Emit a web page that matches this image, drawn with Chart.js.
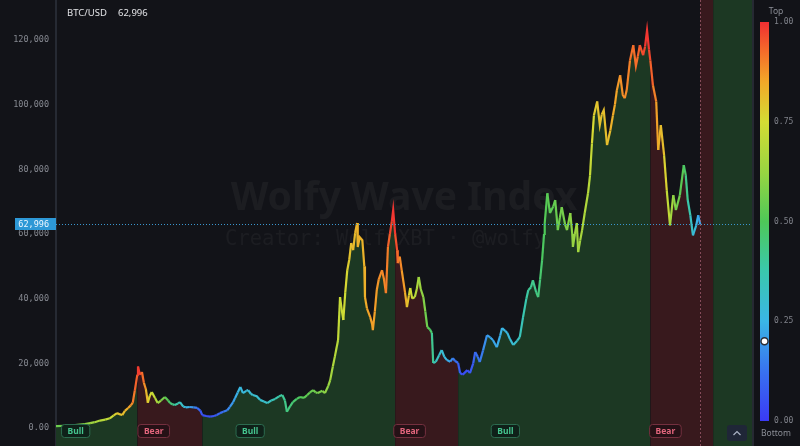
<!DOCTYPE html>
<html>
<head>
<meta charset="utf-8">
<script src="https://cdn.jsdelivr.net/npm/chart.js@4.4.1/dist/chart.umd.min.js"></script>
<style>
  html, body { margin: 0; padding: 0; background: #121318; }
  #wrap { width: 800px; height: 446px; position: relative; }
</style>
</head>
<body>
<div id="wrap"><canvas id="waveChart"></canvas></div>
<script>
// weekly-ish BTC closes (decimal year), price in USD, wave index 0..1
var dates = [
  2016.71, 2016.85, 2017.00, 2017.15, 2017.23, 2017.30, 2017.38, 2017.46, 2017.53, 2017.59,
  2017.64, 2017.69, 2017.72, 2017.76, 2017.81, 2017.85, 2017.88, 2017.91, 2017.95, 2017.96,
  2017.99, 2018.02, 2018.05, 2018.08, 2018.11, 2018.14, 2018.17, 2018.22, 2018.26, 2018.31,
  2018.37, 2018.42, 2018.45, 2018.49, 2018.52, 2018.57, 2018.60, 2018.65, 2018.69, 2018.75,
  2018.81, 2018.86, 2018.91, 2018.94, 2019.00, 2019.06, 2019.12, 2019.16, 2019.21, 2019.26,
  2019.32, 2019.36, 2019.41, 2019.44, 2019.48, 2019.52, 2019.56, 2019.61, 2019.64, 2019.68,
  2019.71, 2019.77, 2019.82, 2019.88, 2019.93, 2019.99, 2020.05, 2020.11, 2020.16, 2020.20,
  2020.23, 2020.28, 2020.32, 2020.38, 2020.43, 2020.49, 2020.54, 2020.58, 2020.63, 2020.67,
  2020.70, 2020.77, 2020.81, 2020.86, 2020.89, 2020.93, 2020.96, 2021.01, 2021.04, 2021.07,
  2021.09, 2021.12, 2021.15, 2021.18, 2021.21, 2021.24, 2021.27, 2021.30, 2021.31, 2021.34,
  2021.38, 2021.41, 2021.42, 2021.45, 2021.50, 2021.53, 2021.54, 2021.57, 2021.60, 2021.63,
  2021.68, 2021.71, 2021.74, 2021.77, 2021.80, 2021.83, 2021.85, 2021.88, 2021.91, 2021.92,
  2021.95, 2021.98, 2022.03, 2022.06, 2022.09, 2022.11, 2022.14, 2022.18, 2022.21, 2022.24,
  2022.27, 2022.31, 2022.34, 2022.37, 2022.41, 2022.44, 2022.46, 2022.50, 2022.55, 2022.59,
  2022.63, 2022.67, 2022.72, 2022.76, 2022.79, 2022.84, 2022.87, 2022.91, 2022.98, 2023.02,
  2023.07, 2023.10, 2023.14, 2023.17, 2023.22, 2023.28, 2023.33, 2023.37, 2023.43, 2023.48,
  2023.51, 2023.56, 2023.59, 2023.63, 2023.68, 2023.74, 2023.78, 2023.83, 2023.88, 2023.91,
  2023.95, 2023.98, 2024.03, 2024.06, 2024.09, 2024.12, 2024.15, 2024.16, 2024.20, 2024.23,
  2024.24, 2024.29, 2024.32, 2024.36, 2024.39, 2024.42, 2024.47, 2024.50, 2024.55, 2024.58,
  2024.59, 2024.62, 2024.65, 2024.67, 2024.70, 2024.73, 2024.77, 2024.82, 2024.85, 2024.88,
  2024.91, 2024.96, 2025.00, 2025.03, 2025.06, 2025.11, 2025.16, 2025.20, 2025.23, 2025.26,
  2025.31, 2025.35, 2025.38, 2025.41, 2025.46, 2025.51, 2025.55, 2025.58, 2025.61, 2025.66,
  2025.69, 2025.72, 2025.75, 2025.77, 2025.81, 2025.86, 2025.89, 2025.93, 2025.98, 2026.02,
  2026.07, 2026.12, 2026.16, 2026.22, 2026.28, 2026.31, 2026.34, 2026.38, 2026.42, 2026.47,
  2026.50, 2026.53
];
var prices = [
  600, 700, 900, 1200, 1500, 1800, 2300, 2600, 3000, 3900,
  4600, 4200, 4000, 5300, 6200, 7000, 7800, 11500, 16500, 19000,
  16500, 17300, 14000, 12000, 7800, 10000, 11100, 9300, 7700, 8500,
  9600, 8500, 7700, 7300, 7100, 7600, 8000, 6600, 6400, 6500,
  6400, 6200, 5400, 4000, 3700, 3500, 3700, 4000, 4600, 5000,
  5500, 6500, 8000, 9300, 11000, 12700, 10800, 11500, 11700, 10600,
  10200, 9800, 8700, 8200, 7700, 8500, 9000, 9800, 10200, 8500,
  5000, 6800, 8000, 9000, 9600, 9300, 10200, 11000, 11700, 11000,
  10800, 11500, 10800, 13000, 14800, 19000, 22000, 27200, 40500, 36000,
  33400, 42000, 48800, 52000, 57200, 55000, 60300, 63400, 56000, 59000,
  58100, 50000, 40500, 37000, 34300, 32000, 30300, 36000, 42700, 46000,
  48800, 46000, 41700, 56000, 60000, 64000, 67400, 60000, 55000, 51000,
  53000, 48800, 42000, 37400, 41000, 43300, 40000, 40500, 43000, 46700,
  43000, 40500, 36000, 31200, 30500, 29400, 20100, 20500, 22500, 24100,
  22000, 21000, 20500, 21600, 20800, 20100, 17000, 16500, 17900, 17000,
  20000, 23500, 22000, 20400, 24000, 28700, 28000, 27200, 25000, 28500,
  30900, 30000, 29400, 27500, 25700, 27000, 28100, 34300, 40000, 42700,
  43500, 45700, 42000, 40500, 46000, 51900, 60000, 63400, 72600, 68000,
  66500, 68500, 70500, 61200, 65000, 68300, 63000, 61200, 66500, 60000,
  56000, 60000, 63400, 54400, 58000, 61200, 66500, 72600, 78000, 88000,
  96700, 101000, 93700, 97000, 98300, 87500, 92000, 96700, 100000, 104500,
  109100, 103000, 102000, 104500, 113700, 118400, 112000, 115000, 118400, 115300,
  118000, 123000, 117000, 113700, 106000, 101000, 86000, 93700, 84400, 73600,
  62700, 72000, 67400, 72000, 81300, 78200, 70500, 65800, 59600, 62700,
  65800, 62996
];
var wave = [
  0.55, 0.55, 0.56, 0.60, 0.62, 0.65, 0.68, 0.70, 0.72, 0.75,
  0.80, 0.80, 0.80, 0.82, 0.85, 0.87, 0.90, 0.92, 0.96, 1.00,
  0.97, 0.95, 0.90, 0.86, 0.78, 0.76, 0.74, 0.70, 0.65, 0.60,
  0.54, 0.50, 0.46, 0.43, 0.40, 0.37, 0.34, 0.30, 0.27, 0.22,
  0.17, 0.12, 0.08, 0.05, 0.04, 0.05, 0.06, 0.08, 0.10, 0.12,
  0.15, 0.18, 0.20, 0.22, 0.25, 0.27, 0.27, 0.28, 0.28, 0.29,
  0.30, 0.30, 0.30, 0.31, 0.32, 0.34, 0.36, 0.38, 0.40, 0.42,
  0.44, 0.45, 0.46, 0.48, 0.50, 0.52, 0.53, 0.54, 0.55, 0.56,
  0.57, 0.58, 0.60, 0.62, 0.64, 0.66, 0.68, 0.70, 0.73, 0.73,
  0.73, 0.75, 0.77, 0.79, 0.81, 0.81, 0.82, 0.83, 0.83, 0.83,
  0.83, 0.83, 0.84, 0.85, 0.86, 0.86, 0.86, 0.86, 0.87, 0.88,
  0.89, 0.89, 0.89, 0.92, 0.96, 0.98, 1.00, 0.98, 0.94, 0.92,
  0.90, 0.88, 0.85, 0.82, 0.78, 0.75, 0.73, 0.70, 0.68, 0.65,
  0.62, 0.60, 0.57, 0.54, 0.50, 0.45, 0.38, 0.34, 0.32, 0.30,
  0.28, 0.25, 0.20, 0.15, 0.12, 0.10, 0.06, 0.04, 0.05, 0.06,
  0.08, 0.10, 0.12, 0.13, 0.15, 0.20, 0.21, 0.22, 0.22, 0.24,
  0.25, 0.26, 0.27, 0.28, 0.30, 0.32, 0.34, 0.36, 0.38, 0.40,
  0.42, 0.42, 0.43, 0.44, 0.46, 0.48, 0.50, 0.50, 0.52, 0.52,
  0.52, 0.53, 0.54, 0.55, 0.56, 0.56, 0.57, 0.58, 0.60, 0.61,
  0.62, 0.63, 0.64, 0.64, 0.65, 0.66, 0.67, 0.68, 0.70, 0.74,
  0.77, 0.80, 0.80, 0.80, 0.81, 0.80, 0.82, 0.84, 0.85, 0.86,
  0.88, 0.88, 0.88, 0.89, 0.91, 0.93, 0.92, 0.93, 0.95, 0.96,
  0.98, 1.00, 0.98, 0.96, 0.92, 0.88, 0.84, 0.82, 0.80, 0.74,
  0.68, 0.62, 0.58, 0.54, 0.50, 0.46, 0.40, 0.35, 0.30, 0.26,
  0.23, 0.20
];
var yTicks = [0, 20000, 40000, 60000, 80000, 100000, 120000];
var waveTicks = [1, 0.75, 0.5, 0.25, 0];
var phaseNames = ['Bull', 'Bear', 'Bull', 'Bear', 'Bull', 'Bear', 'Bull'];
var phaseStart = [2016.71, 2017.95, 2018.94, 2021.88, 2022.84, 2025.77, 2026.73];
var phaseEnd = [2017.95, 2018.94, 2021.88, 2022.84, 2025.77, 2026.73, 2027.40];
var phaseLabelAt = [2017.01, 2018.20, 2019.67, 2022.10, 2023.56, 2026.00, null];

var xMin = 2016.71, xMax = 2027.32;
var yMin = -5567, yMax = 132370;

var bullFill = '#1c3823';
var bearFill = '#38191d';

// colour ramp of the wave index (blue -> cyan -> green -> yellow -> red)
var ramp = [
  [0.00, [58, 58, 245]],
  [0.12, [56, 112, 240]],
  [0.25, [58, 182, 230]],
  [0.38, [58, 200, 170]],
  [0.50, [78, 200, 88]],
  [0.62, [150, 212, 66]],
  [0.75, [212, 220, 52]],
  [0.85, [242, 168, 40]],
  [0.93, [245, 105, 42]],
  [1.00, [240, 46, 50]]
];

function waveColor(v) {
  v = Math.max(0, Math.min(1, v));
  for (var i = 1; i < ramp.length; i++) {
    if (v <= ramp[i][0]) {
      var a = ramp[i - 1], b = ramp[i];
      var t = (v - a[0]) / (b[0] - a[0]);
      var c = [0, 1, 2].map(function (k) { return Math.round(a[1][k] + (b[1][k] - a[1][k]) * t); });
      return 'rgb(' + c.join(',') + ')';
    }
  }
  return 'rgb(240,46,50)';
}

var lastPrice = prices[prices.length - 1];
var lastDate = dates[dates.length - 1];
var lastWave = wave[wave.length - 1];

var points = dates.map(function (d, i) { return { x: d, y: prices[i] }; });

var datasets = [];
// line on top
datasets.push({
  data: points,
  borderWidth: 2.2,
  borderColor: waveColor(0.5),
  pointRadius: 0,
  tension: 0,
  fill: false,
  order: 0,
  segment: {
    borderColor: function (c) {
      return waveColor((wave[c.p0DataIndex] + wave[c.p1DataIndex]) / 2);
    }
  }
});
// shaded area under the price, one per phase
for (var p = 0; p < phaseNames.length; p++) {
  var part = points.filter(function (pt) { return pt.x >= phaseStart[p] && pt.x <= phaseEnd[p]; });
  if (part.length < 2) continue;
  datasets.push({
    data: part,
    borderWidth: 0,
    pointRadius: 0,
    fill: 'start',
    backgroundColor: phaseNames[p] == 'Bull' ? bullFill : bearFill,
    order: 1
  });
}

var overlay = {
  id: 'overlay',
  beforeDatasetsDraw: function (chart) {
    var ctx = chart.ctx, a = chart.chartArea, xs = chart.scales.x;
    ctx.save();
    // phase bands past the last bar
    for (var i = 0; i < phaseNames.length; i++) {
      var s = Math.max(phaseStart[i], lastDate), e = phaseEnd[i];
      if (e <= s) continue;
      var x0 = xs.getPixelForValue(s), x1 = Math.min(xs.getPixelForValue(e), a.right);
      ctx.fillStyle = phaseNames[i] == 'Bull' ? bullFill : bearFill;
      ctx.fillRect(x0, a.top, x1 - x0, a.bottom - a.top);
    }
    // watermark
    var cx = (a.left + a.right) / 2;
    ctx.fillStyle = 'rgba(255,255,255,0.045)';
    ctx.textAlign = 'center';
    ctx.textBaseline = 'alphabetic';
    ctx.font = 'bold 39px "Noto Sans", sans-serif';
    ctx.fillText('Wolfy Wave Index', cx, 210);
    ctx.font = '20.5px "DejaVu Sans Mono", monospace';
    ctx.fillText('Creator: WolfyXBT \u00b7 @wolfyxbt', cx, 245);
    ctx.restore();
  },
  afterDatasetsDraw: function (chart) {
    var ctx = chart.ctx, a = chart.chartArea, xs = chart.scales.x, ys = chart.scales.y;
    ctx.save();
    // last price line
    var py = Math.round(ys.getPixelForValue(lastPrice)) + 0.5;
    ctx.strokeStyle = '#3a97cf';
    ctx.lineWidth = 1;
    ctx.setLineDash([1, 2]);
    ctx.beginPath(); ctx.moveTo(a.left, py); ctx.lineTo(a.right, py); ctx.stroke();
    // last bar marker
    var lx = Math.round(xs.getPixelForValue(lastDate)) + 0.5;
    ctx.strokeStyle = 'rgba(190,110,130,0.6)';
    ctx.setLineDash([2, 2]);
    ctx.beginPath(); ctx.moveTo(lx, a.top); ctx.lineTo(lx, a.bottom); ctx.stroke();
    ctx.setLineDash([]);
    // phase tags
    ctx.font = 'bold 8.5px "Noto Sans", sans-serif';
    ctx.textAlign = 'center';
    ctx.textBaseline = 'middle';
    for (var i = 0; i < phaseNames.length; i++) {
      if (phaseLabelAt[i] == null) continue;
      var bull = phaseNames[i] == 'Bull';
      var cx = xs.getPixelForValue(phaseLabelAt[i]);
      var w = ctx.measureText(phaseNames[i]).width + 12;
      ctx.beginPath();
      ctx.roundRect(cx - w / 2, 424.5, w, 13, 3);
      ctx.fillStyle = bull ? '#0f2119' : '#261116';
      ctx.fill();
      ctx.strokeStyle = bull ? '#2c6b4f' : '#74303f';
      ctx.lineWidth = 1;
      ctx.stroke();
      ctx.fillStyle = bull ? '#45c48e' : '#e2657c';
      ctx.fillText(phaseNames[i], cx, 431.5);
    }
    ctx.restore();
  },
  afterDraw: function (chart) {
    var ctx = chart.ctx, a = chart.chartArea, ys = chart.scales.y;
    ctx.save();
    // header
    ctx.textBaseline = 'alphabetic';
    ctx.textAlign = 'left';
    ctx.fillStyle = '#e2e3e6';
    ctx.font = '9.5px "Noto Sans", sans-serif';
    ctx.fillText('BTC/USD', 67, 16);
    ctx.fillText(lastPrice.toLocaleString('en-US'), 118, 16);
    // price tag on the axis
    var py = ys.getPixelForValue(lastPrice);
    ctx.fillStyle = '#2d98d6';
    ctx.fillRect(15, Math.round(py) - 6, a.left - 15, 12);
    ctx.fillStyle = '#eef7ff';
    ctx.font = '8.5px "DejaVu Sans Mono", monospace';
    ctx.textAlign = 'right';
    ctx.textBaseline = 'middle';
    ctx.fillText(lastPrice.toLocaleString('en-US'), 49, Math.round(py) + 0.5);
    // separator before the colour bar
    ctx.fillStyle = '#262a33';
    ctx.fillRect(a.right, 0, 2, chart.height);
    // colour bar
    var top = 22, bot = 421, bx = 760, bw = 9;
    var g = ctx.createLinearGradient(0, bot, 0, top);
    ramp.forEach(function (r) { g.addColorStop(r[0], 'rgb(' + r[1].join(',') + ')'); });
    ctx.fillStyle = g;
    ctx.fillRect(bx, top, bw, bot - top);
    ctx.fillStyle = '#80838b';
    ctx.font = '8px "DejaVu Sans Mono", monospace';
    ctx.textAlign = 'left';
    waveTicks.forEach(function (v) {
      ctx.fillText(v.toFixed(2), 774, bot - v * (bot - top));
    });
    ctx.font = '8.5px "Noto Sans", sans-serif';
    ctx.textAlign = 'center';
    ctx.fillStyle = '#8b8e96';
    ctx.fillText('Top', 776, 12);
    ctx.fillText('Bottom', 776, 434);
    // current wave marker
    ctx.beginPath();
    ctx.arc(bx + bw / 2, bot - lastWave * (bot - top), 3.5, 0, Math.PI * 2);
    ctx.fillStyle = '#ffffff';
    ctx.fill();
    ctx.lineWidth = 1.5;
    ctx.strokeStyle = '#2a2d35';
    ctx.stroke();
    // scroll button
    ctx.beginPath();
    ctx.roundRect(727, 425, 20, 16, 3);
    ctx.fillStyle = '#1f2637';
    ctx.fill();
    ctx.strokeStyle = '#aab2c4';
    ctx.lineWidth = 1.2;
    ctx.beginPath();
    ctx.moveTo(733.5, 435); ctx.lineTo(737, 431.5); ctx.lineTo(740.5, 435);
    ctx.stroke();
    ctx.restore();
  }
};

var ctx = document.getElementById('waveChart').getContext('2d');
var waveChart = new Chart(ctx, {
  type: 'line',
  data: { datasets: datasets },
  options: {
    responsive: true,
    maintainAspectRatio: false,
    animation: false,
    layout: { padding: { left: 0, right: 48, top: 0, bottom: 0 } },
    plugins: { legend: { display: false }, tooltip: { enabled: false } },
    scales: {
      x: { type: 'linear', min: xMin, max: xMax, display: false },
      y: {
        type: 'linear',
        min: yMin,
        max: yMax,
        afterFit: function (s) { s.width = 56; s.paddingTop = 0; s.paddingBottom = 0; },
        afterBuildTicks: function (s) { s.ticks = yTicks.map(function (v) { return { value: v }; }); },
        grid: { display: false, drawTicks: false },
        border: { display: true, color: '#262a33', width: 2 },
        ticks: {
          padding: 7,
          color: '#868991',
          font: { family: '"DejaVu Sans Mono", monospace', size: 8.5 },
          callback: function (v) { return v === 0 ? '0.00' : v.toLocaleString('en-US'); }
        }
      }
    }
  },
  plugins: [overlay]
});
</script>
</body>
</html>
